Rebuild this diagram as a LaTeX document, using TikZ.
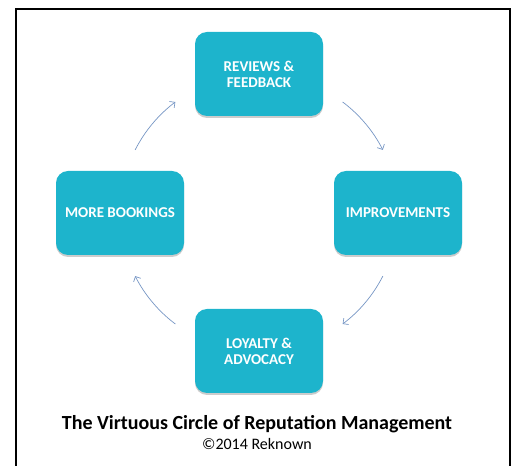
\documentclass[tikz,border=0pt]{standalone}
\usepackage{fontspec}
\setmainfont{Carlito}
\usepackage{tikz}
\usetikzlibrary{calc,arrows.meta,shadows}
\definecolor{boxteal}{RGB}{29,180,204}
\definecolor{arrowblue}{RGB}{118,150,196}
\tikzset{
  stagebox/.style={rectangle,rounded corners=12pt,fill=boxteal,text=white,
    minimum width=128pt,minimum height=84pt,inner sep=0pt,align=center,
    font=\bfseries\fontsize{15}{16}\selectfont,
    drop shadow={shadow xshift=0pt,shadow yshift=-2pt,opacity=0.2,fill=black}},
  cyclearrow/.style={draw=arrowblue,line width=0.7pt,-{Straight Barb[length=4pt,width=8pt]}}
}
\begin{document}
\begin{tikzpicture}[x=1pt,y=1pt]
              \useasboundingbox (0,0) rectangle (515,466);
              \draw[line width=2pt] (16,0) -- (16,457) -- (510,457) -- (510,0);
              \node[stagebox](reviews)at(259,392){REVIEWS \&\\FEEDBACK};
              \node[stagebox](improve)at(398,253){IMPROVEMENTS};
              \node[stagebox](loyalty)at(259,115){LOYALTY \&\\ADVOCACY};
              \node[stagebox](bookings)at(120,253){MORE BOOKINGS};
              \coordinate (c) at (259,253);
              % arcs of the circle between the boxes
              \coordinate (a1) at ($(c)+(153:139)$);
              \coordinate (a2) at ($(c)+(53:139)$);
              \coordinate (a3) at ($(c)+(-27:139)$);
              \coordinate (a4) at ($(c)+(-127:139)$);
              \draw[cyclearrow] (a1) arc[start angle=153,end angle=127,radius=139];
              \draw[cyclearrow] (a2) arc[start angle=53,end angle=27,radius=139];
              \draw[cyclearrow] (a3) arc[start angle=-27,end angle=-53,radius=139];
              \draw[cyclearrow] (a4) arc[start angle=-127,end angle=-153,radius=139];
              \node[anchor=base,font=\bfseries\fontsize{20}{22}\selectfont](title)at(257,36){The Virtuous Circle of Reputation Management};
              \node[anchor=base,font=\fontsize{16}{18}\selectfont](copyright)at(257,16){©2014 Reknown};
            \end{tikzpicture}
\end{document}
